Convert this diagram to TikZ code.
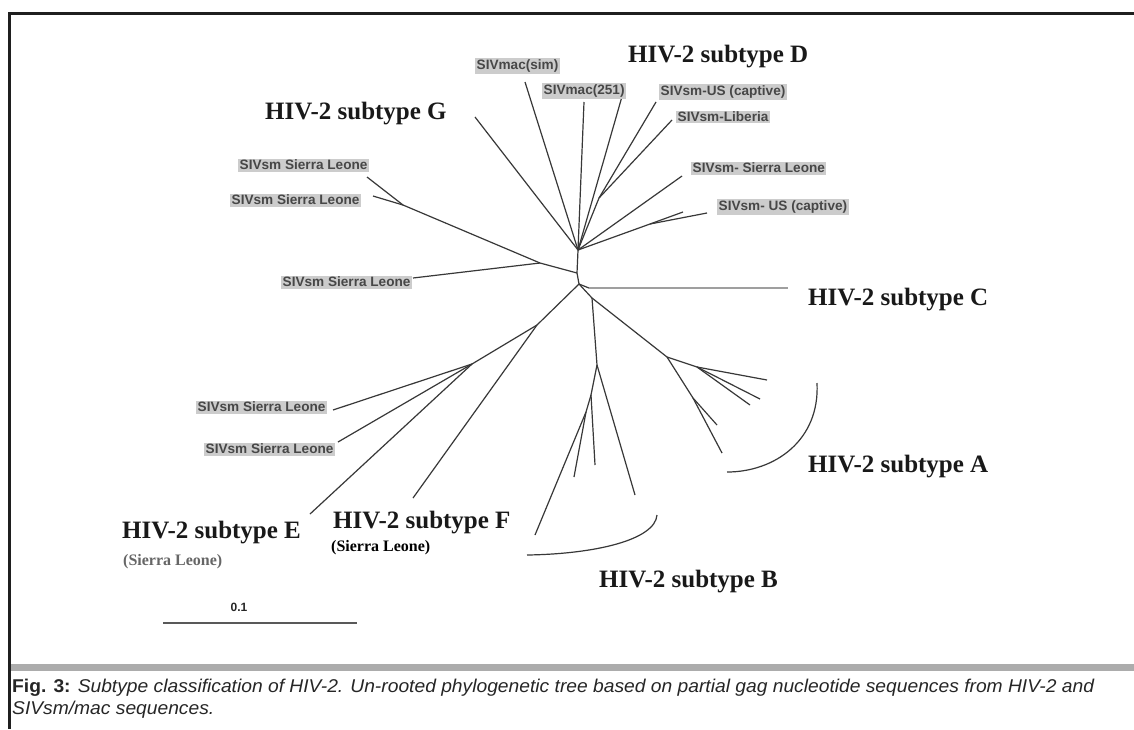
\documentclass[tikz,border=0pt]{standalone}
\usepackage{fontspec}
\setmainfont{Liberation Serif}
\newfontfamily\arialf{Liberation Sans}
\newfontfamily\arialcap[FakeStretch=1.04]{Liberation Sans}
\definecolor{branch}{gray}{0.22}
\definecolor{labbg}{gray}{0.80}
\definecolor{labtx}{gray}{0.28}
\definecolor{framec}{gray}{0.12}
\tikzset{
  br/.style={draw=branch, line width=1.2pt, line join=round},
  lightbr/.style={draw=gray!75, line width=1.2pt},
  arcline/.style={draw=branch, line width=1.2pt},
  sivlab/.style={fill=labbg, text=labtx, font=\arialf\bfseries\fontsize{13.6}{13.6}\selectfont, inner sep=1.5pt, anchor=west},
  sublab/.style={font=\bfseries\fontsize{25}{25}\selectfont, anchor=base west, inner sep=0pt, text=black!90},
  subsmall/.style={font=\bfseries\fontsize{16}{16}\selectfont, anchor=base west, inner sep=0pt},
  captext/.style={anchor=base west, inner sep=0pt, font=\arialcap\fontsize{18.5}{18.5}\selectfont, text=black!85},
}
\begin{document}
\begin{tikzpicture}[x=1pt,y=-1pt]
\useasboundingbox (0,0) rectangle (1134,729);
\fill[white] (0,0) rectangle (1134,729);
% frame
\draw[line width=3pt, framec] (1134,13.5) -- (9.5,13.5) -- (9.5,729);
\fill[gray!65] (11,664) rectangle (1134,671);

% ---- tree coordinates ----
\coordinate (H1) at (577,273);
\coordinate (H2) at (578,250);
\coordinate (H3) at (579,284);
% upper cluster
\coordinate (gE) at (475,117);
\coordinate (simE) at (525,82);
\coordinate (m251a) at (584,102);
\coordinate (m251b) at (623,93);
\coordinate (L) at (599,198);
\coordinate (usE) at (656,102);
\coordinate (libE) at (672,120);
\coordinate (slE) at (682,176);
\coordinate (S1) at (650,224);
\coordinate (s1a) at (683,212);
\coordinate (s1b) at (707,213);
% upper-left
\coordinate (LL) at (540,263);
\coordinate (LN) at (403,205);
\coordinate (sla) at (367,177);
\coordinate (slb) at (373,196);
\coordinate (slc) at (413,278);
% C
\coordinate (C0) at (589,288);
\coordinate (cE) at (788,288);
% A and B
\coordinate (R) at (592,298);
\coordinate (A0) at (667,357);
\coordinate (A1) at (697,367);
\coordinate (a1) at (767,380);
\coordinate (a2) at (760,399);
\coordinate (a3) at (750,405);
\coordinate (A2) at (693,398);
\coordinate (a4) at (717,425);
\coordinate (a5) at (722,453);
\coordinate (B0) at (597,365);
\coordinate (b1) at (635,495);
\coordinate (B1) at (591,395);
\coordinate (b2) at (595,465);
\coordinate (B2) at (586,412);
\coordinate (b3) at (574,477);
\coordinate (b4) at (535,535);
% E, F
\coordinate (N1) at (537,325);
\coordinate (fE) at (413,498);
\coordinate (N2) at (472,364);
\coordinate (e1) at (333,410);
\coordinate (e2) at (338,442);
\coordinate (eE) at (310,514);

% ---- branches ----
\draw[br] (H2) -- (H1) -- (H3);
\draw[br] (H2) -- (gE);
\draw[br] (H2) -- (simE);
\draw[br] (H2) -- (m251a);
\draw[br] (H2) -- (m251b);
\draw[br] (H2) -- (L) -- (usE);
\draw[br] (L) -- (libE);
\draw[br] (H2) -- (slE);
\draw[br] (H2) -- (S1) -- (s1a);
\draw[br] (S1) -- (s1b);
\draw[br] (H1) -- (LL) -- (LN) -- (sla);
\draw[br] (LN) -- (slb);
\draw[br] (LL) -- (slc);
\draw[br] (H3) -- (C0);
\draw[lightbr] (C0) -- (cE);
\draw[br] (H3) -- (R) -- (A0) -- (A1) -- (a1);
\draw[br] (A1) -- (a2);
\draw[br] (A1) -- (a3);
\draw[br] (A0) -- (A2) -- (a4);
\draw[br] (A2) -- (a5);
\draw[br] (R) -- (B0) -- (b1);
\draw[br] (B0) -- (B1) -- (b2);
\draw[br] (B1) -- (B2) -- (b3);
\draw[br] (B2) -- (b4);
\draw[br] (H3) -- (N1) -- (fE);
\draw[br] (N1) -- (N2) -- (e1);
\draw[br] (N2) -- (e2);
\draw[br] (N2) -- (eE);

% brackets
\coordinate (arcA1) at (817,383);
\coordinate (arcA2) at (727,472);
\coordinate (arcB1) at (657,515);
\coordinate (arcB2) at (527,555);
\draw[arcline] (arcA1) .. controls (820,440) and (775,472) .. (arcA2);
\draw[arcline] (arcB1) .. controls (655,540) and (595,554) .. (arcB2);

% ---- SIV labels ----
\node[sivlab] (l1) at (475,66) {SIVmac(sim)};
\node[sivlab] (l2) at (542,91) {SIVmac(251)};
\node[sivlab] (l3) at (659,92) {SIVsm-US (captive)};
\node[sivlab] (l4) at (676,117) {SIVsm-Liberia};
\node[sivlab] (l5) at (691,168) {SIVsm- Sierra Leone};
\node[sivlab] (l6) at (717,207) {SIVsm- US (captive)};
\node[sivlab] (l7) at (238,165) {SIVsm Sierra Leone};
\node[sivlab] (l8) at (230,200) {SIVsm Sierra Leone};
\node[sivlab] (l9) at (281,282) {SIVsm Sierra Leone};
\node[sivlab] (l10) at (196,407) {SIVsm Sierra Leone};
\node[sivlab] (l11) at (204,449) {SIVsm Sierra Leone};

% ---- subtype labels ----
\node[sublab] (tD) at (628,62) {HIV-2 subtype D};
\node[sublab] (tG) at (265,119) {HIV-2 subtype G};
\node[sublab] (tC) at (808,305) {HIV-2 subtype C};
\node[sublab] (tA) at (808,472) {HIV-2 subtype A};
\node[sublab] (tB) at (599,587) {HIV-2 subtype B};
\node[sublab] (tE) at (122,538) {HIV-2 subtype E};
\node[sublab] (tF) at (333,528) {HIV-2 subtype F};
\node[subsmall, text=black!60] (sE) at (123,565) {(Sierra Leone)};
\node[subsmall] (sF) at (331,551) {(Sierra Leone)};

% scale bar
\coordinate (sb1) at (163,623);
\coordinate (sb2) at (357,623);
\draw[line width=1.2pt, black!65] (sb1) -- (sb2);
\node[font=\arialf\bfseries\fontsize{12}{12}\selectfont, text=black!85] (sbl) at (239,607) {0.1};

% caption
\node[captext] (cap1) at (12,692)
  {\textbf{Fig. 3:} \textit{Subtype classification of HIV-2. Un-rooted phylogenetic tree based on partial gag nucleotide sequences from HIV-2 and}};
\node[captext] (cap2) at (12,714)
  {\textit{SIVsm/mac sequences.}};
\end{tikzpicture}
\end{document}
